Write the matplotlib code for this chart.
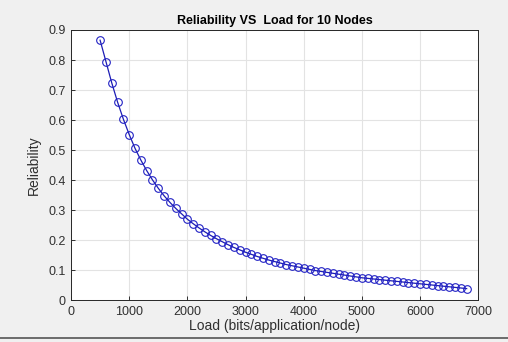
import matplotlib
matplotlib.use("Agg")
import matplotlib.pyplot as plt
from matplotlib.lines import Line2D

# load in bits/application/node
load = list(range(500, 6900, 100))
reliability = [
    0.866, 0.795, 0.724, 0.660, 0.603, 0.552, 0.506, 0.467, 0.432, 0.401,
    0.373, 0.348, 0.326, 0.306, 0.288, 0.270, 0.255, 0.241, 0.228, 0.216,
    0.205, 0.195, 0.185, 0.176, 0.168, 0.160, 0.153, 0.146, 0.140, 0.134,
    0.129, 0.124, 0.119, 0.115, 0.111, 0.107, 0.103, 0.099, 0.096, 0.093,
    0.090, 0.087, 0.084, 0.081, 0.078, 0.075, 0.073, 0.071, 0.069, 0.067,
    0.065, 0.063, 0.061, 0.059, 0.057, 0.055, 0.053, 0.051, 0.049, 0.047,
    0.045, 0.043, 0.041, 0.039,
]
xticks = [0, 1000, 2000, 3000, 4000, 5000, 6000, 7000]
yticks = [0, 0.1, 0.2, 0.3, 0.4, 0.5, 0.6, 0.7, 0.8, 0.9]

plt.rcParams['font.family'] = ['Liberation Sans', 'DejaVu Sans']

fig = plt.figure(figsize=(5.08, 3.42), dpi=100)
fig.patch.set_facecolor('#f0f0f0')
ax = fig.add_axes([0.1398, 0.1219, 0.8017, 0.7904])
ax.set_facecolor('white')

ax.plot(load, reliability, color='#1c1cb4', linewidth=0.9, marker='o',
        markersize=5.5, markerfacecolor='none', markeredgecolor='#2222c4',
        markeredgewidth=0.8)

ax.set_xlim(0, 7000)
ax.set_ylim(0, 0.9)
ax.set_xticks(xticks)
ax.set_yticks(yticks)
ax.set_yticklabels(['0', '0.1', '0.2', '0.3', '0.4', '0.5', '0.6', '0.7', '0.8', '0.9'])
ax.grid(True, color='#e3e3e3', linewidth=0.8)
ax.set_axisbelow(True)
ax.tick_params(direction='in', length=3, width=0.7, labelsize=9,
               colors='#303030', pad=4)
for s in ax.spines.values():
    s.set_color('#262626')
    s.set_linewidth(0.7)

ax.set_title('Reliability VS  Load for 10 Nodes', fontsize=9, fontweight='bold',
             color='black', pad=4)
ax.set_xlabel('Load (bits/application/node)', fontsize=10, color='#303030', labelpad=1)
ax.set_ylabel('Reliability', fontsize=10, color='#303030', labelpad=5)

fig.add_artist(Line2D([0, 1], [0.013, 0.013], color='#555555', linewidth=1.2))

fig.savefig('out.png', dpi=100, facecolor=fig.get_facecolor())
